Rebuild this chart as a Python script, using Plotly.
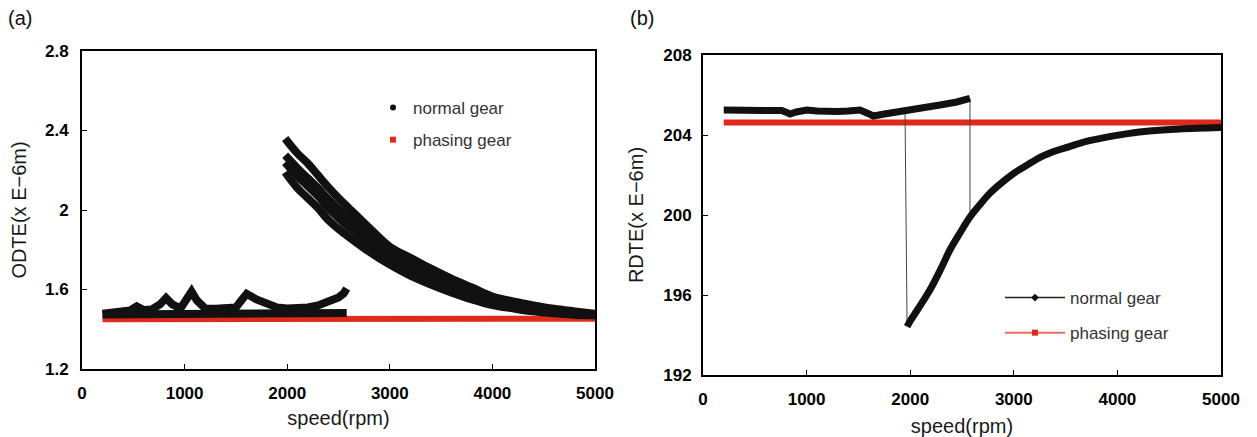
import plotly.graph_objects as go

# ---------------- data: panel (a) ODTE ----------------
odte_low_speed = [200, 300, 400, 470, 533, 600, 680, 760, 819, 880, 960, 1020, 1068, 1120,
                  1200, 1300, 1400, 1500, 1560, 1605, 1700, 1800, 1900, 2000, 2100, 2200,
                  2300, 2400, 2450, 2500, 2550, 2580]
odte_low_val = [1.478, 1.485, 1.488, 1.495, 1.515, 1.497, 1.500, 1.525, 1.557, 1.525, 1.505,
                1.545, 1.590, 1.545, 1.505, 1.503, 1.505, 1.510, 1.550, 1.578, 1.550, 1.525,
                1.510, 1.505, 1.505, 1.510, 1.520, 1.535, 1.545, 1.560, 1.580, 1.605]
odte_base_speed = [200, 1000, 2000, 2580]
odte_base_val = [1.474, 1.476, 1.478, 1.482]

odte_high_speed = [1980, 2100, 2200, 2300, 2400, 2500, 2600, 2800, 3000, 3200, 3400,
                   3600, 3800, 4000, 4200, 4400, 4600, 4800, 5000]
odte_high_a = [2.360, 2.285, 2.235, 2.175, 2.115, 2.060, 2.010, 1.910, 1.815, 1.760, 1.705,
               1.655, 1.610, 1.565, 1.540, 1.520, 1.503, 1.490, 1.478]
odte_high_b = [2.275, 2.210, 2.160, 2.110, 2.055, 2.005, 1.960, 1.875, 1.790, 1.730, 1.675,
               1.625, 1.585, 1.550, 1.525, 1.505, 1.493, 1.483, 1.475]
odte_high_c = [2.240, 2.170, 2.120, 2.070, 2.010, 1.960, 1.915, 1.835, 1.760, 1.700, 1.650,
               1.605, 1.567, 1.535, 1.515, 1.497, 1.486, 1.478, 1.472]
odte_high_d = [2.190, 2.110, 2.060, 2.010, 1.950, 1.905, 1.865, 1.790, 1.725, 1.670, 1.625,
               1.585, 1.550, 1.522, 1.505, 1.490, 1.480, 1.473, 1.470]

odte_phase_speed = [200, 1000, 2000, 3000, 4000, 5000]
odte_phase_val = [1.450, 1.452, 1.452, 1.453, 1.453, 1.453]

odte_tickvals = [1.2, 1.6, 2, 2.4, 2.8]
odte_ticktext = ["1.2", "1.6", "2", "2.4", "2.8"]

# ---------------- data: panel (b) RDTE ----------------
rdte_up_speed = [200, 400, 550, 650, 760, 808, 840, 900, 1001, 1100, 1194, 1300, 1400, 1515,
                 1593, 1644, 1750, 1850, 1950, 2100, 2288, 2450, 2577]
rdte_up_val = [205.25, 205.24, 205.17, 205.20, 205.22, 205.12, 205.05, 205.15, 205.25, 205.20,
               205.15, 205.18, 205.20, 205.25, 205.08, 204.95, 205.05, 205.15, 205.25, 205.35,
               205.50, 205.65, 205.83]
rdte_low_speed = [1970, 2000, 2075, 2190, 2300, 2383, 2480, 2577, 2670, 2768, 2880, 3000, 3130,
                  3268, 3400, 3537, 3700, 3922, 4100, 4307, 4600, 5000]
rdte_low_val = [194.42, 194.70, 195.30, 196.25, 197.35, 198.25, 199.10, 199.90, 200.50, 201.08,
                201.60, 202.08, 202.50, 202.92, 203.20, 203.42, 203.68, 203.92, 204.07, 204.20,
                204.30, 204.37]
rdte_phase_speed = [200, 1000, 2000, 3000, 4000, 5000]
rdte_phase_val = [204.62, 204.62, 204.62, 204.62, 204.63, 204.63]

rdte_tickvals = [192, 196, 200, 204, 208]
speed_tickvals = [0, 1000, 2000, 3000, 4000, 5000]

BLACK = "#111111"
RED = "#E0291B"
# the page body adds an 8px offset; size the figure so it fills the 1257x437 window
OFF = 8
W, H = 1257 - OFF, 437 - OFF
FONT = "Arial, Liberation Sans, sans-serif"


def px(x):
    return (x - OFF) / W


def py(y):
    return 1 - (y - OFF) / H


fig = go.Figure()

# ---- panel (a) traces ----
fig.add_trace(go.Scatter(x=odte_phase_speed, y=odte_phase_val, mode="lines",
                         line=dict(color=RED, width=6), showlegend=False,
                         xaxis="x", yaxis="y"))
fig.add_trace(go.Scatter(x=odte_base_speed, y=odte_base_val, mode="lines",
                         line=dict(color=BLACK, width=8), showlegend=False,
                         xaxis="x", yaxis="y"))
fig.add_trace(go.Scatter(x=odte_low_speed, y=odte_low_val, mode="lines",
                         line=dict(color=BLACK, width=8), showlegend=False,
                         xaxis="x", yaxis="y"))
for branch in (odte_high_a, odte_high_b, odte_high_c, odte_high_d):
    fig.add_trace(go.Scatter(x=odte_high_speed, y=branch, mode="lines",
                             line=dict(color=BLACK, width=8, shape="spline"),
                             showlegend=False, xaxis="x", yaxis="y"))
# legend entries (a)
fig.add_trace(go.Scatter(x=[None], y=[None], mode="markers", name="normal gear",
                         marker=dict(color=BLACK, size=6, symbol="circle"),
                         legend="legend", legendgroup="a1", xaxis="x", yaxis="y"))
fig.add_trace(go.Scatter(x=[None], y=[None], mode="markers", name="phasing gear",
                         marker=dict(color=RED, size=6, symbol="square"),
                         legend="legend", legendgroup="a2", xaxis="x", yaxis="y"))

# ---- panel (b) traces ----
fig.add_trace(go.Scatter(x=rdte_phase_speed, y=rdte_phase_val, mode="lines",
                         line=dict(color=RED, width=6), showlegend=False,
                         xaxis="x2", yaxis="y2"))
# thin jump connectors built from branch end points
i_jump = rdte_up_speed.index(1950)
fig.add_trace(go.Scatter(
    x=[rdte_up_speed[i_jump], rdte_low_speed[0], None, rdte_up_speed[-1], rdte_low_speed[7]],
    y=[rdte_up_val[i_jump], rdte_low_val[0], None, rdte_up_val[-1], rdte_low_val[7]],
    mode="lines", line=dict(color="#444444", width=1), showlegend=False,
    xaxis="x2", yaxis="y2"))
fig.add_trace(go.Scatter(x=rdte_up_speed, y=rdte_up_val, mode="lines",
                         line=dict(color=BLACK, width=7), showlegend=False,
                         xaxis="x2", yaxis="y2"))
fig.add_trace(go.Scatter(x=rdte_low_speed, y=rdte_low_val, mode="lines",
                         line=dict(color=BLACK, width=7, shape="spline"), showlegend=False,
                         xaxis="x2", yaxis="y2"))
fig.add_trace(go.Scatter(x=[None], y=[None], mode="lines+markers", name="normal gear",
                         line=dict(color="#222222", width=1.5),
                         marker=dict(color=BLACK, size=6, symbol="diamond"),
                         legend="legend2", legendgroup="b1", xaxis="x2", yaxis="y2"))
fig.add_trace(go.Scatter(x=[None], y=[None], mode="lines+markers", name="phasing gear",
                         line=dict(color="#EE6A5F", width=2),
                         marker=dict(color=RED, size=6, symbol="square"),
                         legend="legend2", legendgroup="b2", xaxis="x2", yaxis="y2"))

tick_font = dict(family=FONT, size=17, color="#000000", weight=700)
title_font = dict(family=FONT, size=20, color="#1a1a1a")
axis_common = dict(showgrid=False, zeroline=False, showline=True, mirror=True,
                   linecolor="#000000", linewidth=2, ticks="inside", ticklen=5,
                   tickwidth=1, tickcolor="#000000", tickfont=tick_font, automargin=False)

fig.update_layout(
    width=W, height=H,
    margin=dict(l=0, r=0, t=0, b=0, autoexpand=False),
    paper_bgcolor="white", plot_bgcolor="white",
    xaxis=dict(domain=[px(82), px(595)], range=[0, 5000], tickvals=speed_tickvals,
               ticklabelstandoff=8,
               title=dict(text="speed(rpm)", font=title_font, standoff=9),
               anchor="y", **axis_common),
    yaxis=dict(domain=[py(369), py(51)], range=[1.2, 2.8],
               tickvals=odte_tickvals, ticktext=odte_ticktext, ticklabelstandoff=8,
               title=dict(text="ODTE(x E−6m)", font=title_font, standoff=15),
               anchor="x", **axis_common),
    xaxis2=dict(domain=[px(703), px(1221)], range=[0, 5000], tickvals=speed_tickvals,
                ticklabelstandoff=8,
                title=dict(text="speed(rpm)", font=title_font, standoff=12),
                anchor="y2", **axis_common),
    yaxis2=dict(domain=[py(375), py(55)], range=[192, 208],
                tickvals=rdte_tickvals, ticklabelstandoff=6,
                title=dict(text="RDTE(x E−6m)", font=title_font, standoff=14),
                anchor="x2", **axis_common),
    legend=dict(x=px(373), y=py(90), xanchor="left", yanchor="top",
                bgcolor="rgba(0,0,0,0)", traceorder="grouped", tracegroupgap=7,
                font=dict(family=FONT, size=17, color="#333333")),
    legend2=dict(x=px(1000), y=py(280), xanchor="left", yanchor="top",
                 bgcolor="rgba(0,0,0,0)", traceorder="grouped", tracegroupgap=10,
                 itemwidth=60,
                 font=dict(family=FONT, size=17, color="#333333")),
    annotations=[
        dict(text="(a)", x=px(6), y=py(18), xref="paper", yref="paper",
             xanchor="left", yanchor="middle", showarrow=False,
             font=dict(family=FONT, size=20, color="#111111")),
        dict(text="(b)", x=px(628), y=py(18), xref="paper", yref="paper",
             xanchor="left", yanchor="middle", showarrow=False,
             font=dict(family=FONT, size=20, color="#111111")),
    ],
)

fig.write_html("out.html")
